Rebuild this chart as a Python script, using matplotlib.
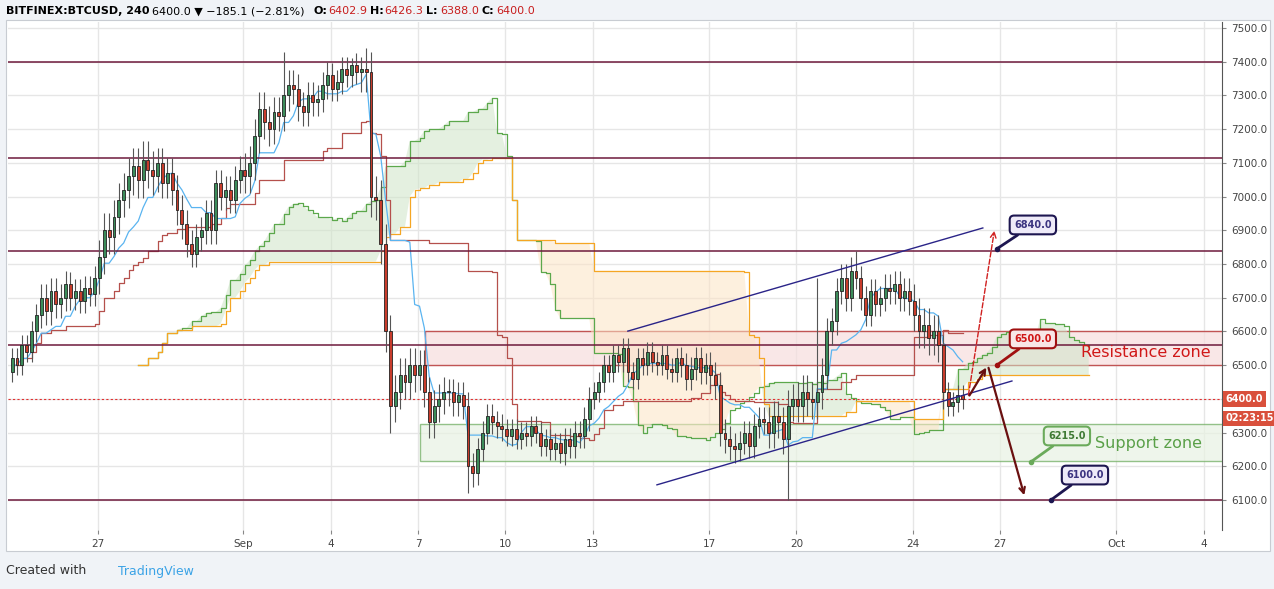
import numpy as np
import pandas as pd
import matplotlib.pyplot as plt
from matplotlib.patches import Rectangle

# 4h candles, x = days since Aug 27 (first candle at Aug 24 ~01:00)
FIRST_DAY = -2.95
FIRST_OPEN = 6480
closes = [
    6520, 6500, 6560, 6540, 6600, 6650,   # Aug 24
    6700, 6660, 6720, 6680, 6700, 6740,   # Aug 25
    6700, 6720, 6690, 6730, 6710, 6760,   # Aug 26
    6820, 6900, 6880, 6940, 6990, 7020,   # Aug 27
    7060, 7090, 7050, 7110, 7080, 7060,   # Aug 28
    7100, 7040, 7070, 7020, 6960, 6920,   # Aug 29
    6860, 6830, 6880, 6900, 6950, 6900,   # Aug 30
    7040, 7000, 7020, 6990, 7050, 7080,   # Aug 31
    7060, 7100, 7180, 7260, 7220, 7200,   # Sep 1
    7250, 7240, 7300, 7330, 7320, 7270,   # Sep 2
    7250, 7300, 7280, 7290, 7330, 7360,   # Sep 3
    7320, 7340, 7380, 7360, 7390, 7370,   # Sep 4
    7380, 7370, 7000, 6990, 6860, 6600,   # Sep 5
    6380, 6420, 6470, 6450, 6500, 6470,   # Sep 6
    6500, 6420, 6330, 6380, 6400, 6420,   # Sep 7
    6420, 6390, 6410, 6380, 6200, 6180,   # Sep 8
    6250, 6300, 6350, 6330, 6320, 6310,   # Sep 9
    6290, 6310, 6280, 6300, 6290, 6320,   # Sep 10
    6300, 6260, 6280, 6250, 6270, 6240,   # Sep 11
    6280, 6260, 6300, 6290, 6340, 6400,   # Sep 12
    6420, 6450, 6500, 6480, 6530, 6510,   # Sep 13
    6550, 6480, 6460, 6520, 6500, 6540,   # Sep 14
    6510, 6500, 6530, 6490, 6480, 6520,   # Sep 15
    6500, 6460, 6490, 6520, 6480, 6500,   # Sep 16
    6470, 6440, 6300, 6280, 6260, 6250,   # Sep 17
    6270, 6300, 6260, 6320, 6340, 6330,   # Sep 18
    6300, 6350, 6330, 6280, 6380, 6400,   # Sep 19
    6380, 6420, 6400, 6390, 6420, 6470,   # Sep 20
    6600, 6630, 6720, 6760, 6700, 6780,   # Sep 21
    6760, 6700, 6650, 6720, 6680, 6700,   # Sep 22
    6730, 6720, 6740, 6700, 6720, 6690,   # Sep 23
    6650, 6600, 6620, 6580, 6600, 6560,   # Sep 24
    6420, 6380, 6390, 6410, 6400,         # Sep 25
]
# typical wick length per day
day_wicks = [30, 40, 35, 50, 55, 45, 40, 40, 50, 45, 40, 35, 60, 50, 45,
             40, 35, 30, 30, 35, 30, 30, 30, 35, 40, 35, 45, 50, 40, 35,
             40, 50, 30]
spike_high = {56: 7430, 70: 7410, 72: 7415, 174: 6840, 166: 6760}
spike_low = {78: 6300, 94: 6120, 160: 6100, 88: 6330, 192: 6370}

h_levels = [7400, 7115, 6840, 6560, 6100]
res_zone = (6500, 6600)
sup_zone = (6215, 6325)
chan_upper = ([18.21, 30.41], [6601, 6907])
chan_lower = ([19.21, 31.41], [6145, 6453])

day_ticks = [0, 5, 8, 11, 14, 17, 21, 24, 28, 31, 35, 38]
day_labels = ['27', 'Sep', '4', '7', '10', '13', '17', '20', '24', '27', 'Oct', '4']
price_ticks = list(range(6100, 7501, 100))

callouts = [  # label, box (day, price), point (day, price), edge, face, text colour
    ('6840.0', (32.13, 6916), (30.89, 6845), '#1d1650', '#eeeaf8', '#3c3480'),
    ('6500.0', (32.13, 6578), (30.89, 6500), '#a01010', '#f8e6e6', '#d01818'),
    ('6215.0', (33.30, 6290), (32.06, 6213), '#6aaa5a', '#e9f3e4', '#3f7a34'),
    ('6100.0', (33.92, 6174), (32.75, 6100), '#1d1650', '#eeeaf8', '#3c3480'),
]

# ---- build OHLC ----
n = len(closes)
t = FIRST_DAY + np.arange(n) / 6.0
opens = [FIRST_OPEN] + closes[:-1]
highs, lows = [], []
for i in range(n):
    w = day_wicks[i // 6]
    highs.append(spike_high.get(i, max(opens[i], closes[i]) + w))
    lows.append(spike_low.get(i, min(opens[i], closes[i]) - w))
df = pd.DataFrame({'o': opens, 'h': highs, 'l': lows, 'c': closes})

tenkan = (df.h.rolling(9, 1).max() + df.l.rolling(9, 1).min()) / 2
kijun = (df.h.rolling(26, 1).max() + df.l.rolling(26, 1).min()) / 2
span_a = ((tenkan + kijun) / 2).values
span_b = ((df.h.rolling(52, 1).max() + df.l.rolling(52, 1).min()) / 2).values
t_span = t + 26 / 6.0

fig = plt.figure(figsize=(12.74, 5.89), dpi=100)
fig.patch.set_facecolor('#f0f3f7')
fig.patches.append(Rectangle((6 / 1274, 38 / 589), 1264 / 1274, 531 / 589,
                             transform=fig.transFigure, facecolor='white',
                             edgecolor='#c8ccd2', lw=0.8, zorder=-5))
ax = fig.add_axes([8 / 1274, 59 / 589, 1214 / 1274, 508 / 589])
ax.set_xlim(-3.093, 38.63)
ax.set_ylim(6011, 7518)

for d in day_ticks:
    ax.axvline(d, color='#e6e6e6', lw=1, zorder=0)
for p in price_ticks:
    ax.axhline(p, color='#e6e6e6', lw=1, zorder=0)

# zones
ax.add_patch(Rectangle((11.24, res_zone[0]), 40, res_zone[1] - res_zone[0],
                       facecolor='#f7dede', alpha=0.7, edgecolor='#b01818', lw=1, zorder=1))
ax.add_patch(Rectangle((11.07, sup_zone[0]), 40, sup_zone[1] - sup_zone[0],
                       facecolor='#e8f2e3', alpha=0.7, edgecolor='#6aaa5a', lw=1, zorder=1))

# cloud
ax.fill_between(t_span, span_a, span_b, where=span_a >= span_b, color='#cfe5c8', alpha=0.55, lw=0, interpolate=True, zorder=1)
ax.fill_between(t_span, span_a, span_b, where=span_a < span_b, color='#fde4c4', alpha=0.55, lw=0, interpolate=True, zorder=1)
ax.plot(t_span, span_a, color='#5ca84c', lw=0.9, drawstyle='steps-post', zorder=2)
ax.plot(t_span, span_b, color='#f5a623', lw=0.9, drawstyle='steps-post', zorder=2)
ax.plot(t, kijun, color='#b5504c', lw=0.9, drawstyle='steps-post', zorder=2)
ax.plot(t, tenkan, color='#5ab4f0', lw=0.9, zorder=2)

for lv in h_levels:
    ax.axhline(lv, color='#6e1a3c', lw=1.1, zorder=2)
ax.axhline(6400, color='#e03030', lw=0.8, ls=(0, (2, 2)), zorder=2)

# candles
bw = 0.6 / 6
for ti, o, h, l, c in zip(t, df.o, df.h, df.l, df.c):
    up = c >= o
    face = '#3c8c5a' if up else '#c83c2c'
    ax.vlines(ti, l, h, color='#555555', lw=0.8, zorder=3)
    ax.add_patch(Rectangle((ti - bw / 2, min(o, c)), bw, max(abs(c - o), 3),
                           facecolor=face, edgecolor='#222222', lw=0.6, zorder=4))

ax.plot(*chan_upper, color='#2a2488', lw=1, zorder=5)
ax.plot(*chan_lower, color='#2a2488', lw=1, zorder=5)

# arrows
ax.annotate('', xy=(30.82, 6907), xytext=(29.90, 6403),
            arrowprops=dict(arrowstyle='->', color='#d02020', lw=1, ls='--'), zorder=6)
ax.annotate('', xy=(30.58, 6500), xytext=(29.90, 6403),
            arrowprops=dict(arrowstyle='->', color='#6a1010', lw=1.6), zorder=6)
ax.annotate('', xy=(31.86, 6106), xytext=(30.58, 6500),
            arrowprops=dict(arrowstyle='->', color='#6a1010', lw=1.6), zorder=6)

for lab, box, pt, ec, fc, tc in callouts:
    ax.annotate(lab, xy=pt, xytext=box, ha='center', va='center', fontsize=7,
                color=tc, fontweight='bold',
                bbox=dict(boxstyle='round,pad=0.45', fc=fc, ec=ec, lw=1.5),
                arrowprops=dict(arrowstyle='-', color=ec, lw=2, shrinkA=0, shrinkB=0),
                zorder=7)
    ax.plot(*pt, 'o', color=ec, ms=3, zorder=7)

ax.text(33.78, 6539, 'Resistance zone', color='#d01818', fontsize=11.5, va='center', zorder=7)
ax.text(34.26, 6269, 'Support zone', color='#5aa048', fontsize=11.5, va='center', zorder=7)

# axes styling
for s in ['top', 'left', 'bottom']:
    ax.spines[s].set_visible(False)
ax.spines['right'].set_color('#555555')
ax.yaxis.tick_right()
ax.set_yticks(price_ticks)
# the 6400 label is covered by the last-price marker
ax.set_yticklabels(['' if p == 6400 else f'{p:.1f}' for p in price_ticks],
                   fontsize=7.5, color='#444444')
ax.set_xticks(day_ticks)
ax.set_xticklabels(day_labels, fontsize=7.5, color='#444444')
ax.tick_params(length=3, color='#888888')
ax.set_facecolor('none')

ax.text(1.003, 6400, '6400.0', transform=ax.get_yaxis_transform(), fontsize=7,
        color='white', fontweight='bold', va='center',
        bbox=dict(boxstyle='square,pad=0.3', fc='#d9503c', ec='none'), zorder=8)
ax.text(1.003, 6342, '02:23:15', transform=ax.get_yaxis_transform(), fontsize=7,
        color='white', fontweight='bold', va='center',
        bbox=dict(boxstyle='square,pad=0.3', fc='#d9503c', ec='none'), zorder=8)

hy = 1 - 11 / 589
fig.text(6 / 1274, hy, 'BITFINEX:BTCUSD, 240', fontsize=8, fontweight='bold', va='center')
fig.text(152 / 1274, hy, '6400.0 \u25BC \u2212185.1 (\u22122.81%)', fontsize=8, va='center')
x0 = 314
for k, v in [('O:', '6402.9'), ('H:', '6426.3'), ('L:', '6388.0'), ('C:', '6400.0')]:
    fig.text(x0 / 1274, hy, k, fontsize=8, fontweight='bold', va='center')
    fig.text((x0 + 14) / 1274, hy, v, fontsize=8, color='#c81e1e', va='center')
    x0 += 56
fig.text(6 / 1274, 18 / 589, 'Created with', fontsize=9, color='#333333', va='center')
fig.text(118 / 1274, 18 / 589, 'TradingView', fontsize=9, color='#3ba3e6', va='center')

fig.savefig('out.png', dpi=100, facecolor=fig.get_facecolor())
